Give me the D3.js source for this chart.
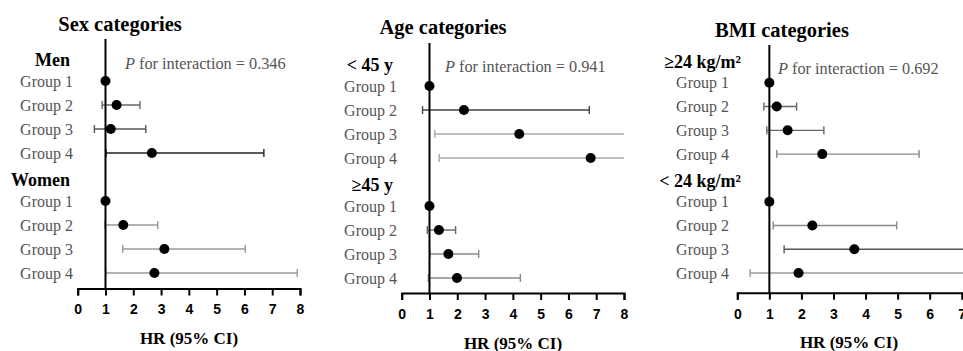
<!DOCTYPE html>
<html>
<head>
<meta charset="utf-8">
<script src="https://cdn.jsdelivr.net/npm/d3@7"></script>
<style>
  body { margin: 0; background: #fff; }
  svg { display: block; }
  .tick text { font-family: "Liberation Sans", Arial, sans-serif; font-weight: bold; font-size: 14px; fill: #000; }
  .serif { font-family: "Liberation Serif", serif; }
</style>
</head>
<body>
<div id="chart"></div>
<script>
// data
var panelTitles = ["Sex categories", "Age categories", "BMI categories"];
var subgroupNames = [["Men", "Women"], ["< 45 y", "\u226545 y"], ["\u226524 kg/m\u00b2", "< 24 kg/m\u00b2"]];
var groupLabels = ["Group 1", "Group 2", "Group 3", "Group 4"];
var pInteraction = ["0.346", "0.941", "0.692"];
var xTicks = [0, 1, 2, 3, 4, 5, 6, 7, 8];

// HR, lower and upper 95% CI, per subgroup
var hrSex    = [[1, 1.40, 1.19, 2.67], [1, 1.64, 3.12, 2.76]];
var lowerSex = [[1, 0.88, 0.60, 1.02], [1, 0.98, 1.62, 1.01]];
var upperSex = [[1, 2.24, 2.45, 6.70], [1, 2.88, 6.03, 7.90]];

var hrAge    = [[1, 2.24, 4.23, 6.80], [1, 1.34, 1.68, 1.99]];
var lowerAge = [[1, 0.75, 1.19, 1.35], [1, 0.92, 1.02, 0.96]];
var upperAge = [[1, 6.75, 9.80, 12.5], [1, 1.94, 2.77, 4.27]];

var hrBmi    = [[1, 1.23, 1.57, 2.65], [1, 2.34, 3.65, 1.91]];
var lowerBmi = [[1, 0.83, 0.92, 1.23], [1, 1.12, 1.46, 0.40]];
var upperBmi = [[1, 1.85, 2.70, 5.67], [1, 4.97, 9.10, 9.60]];

var hrAll = [hrSex, hrAge, hrBmi];
var lowerAll = [lowerSex, lowerAge, lowerBmi];
var upperAll = [upperSex, upperAge, upperBmi];

// styling / layout (not data)
var ciShades = [
  [["#000", "#666", "#555", "#222"], ["#000", "#999", "#999", "#999"]],
  [["#000", "#444", "#aaa", "#aaa"], ["#000", "#666", "#888", "#888"]],
  [["#000", "#666", "#666", "#888"], ["#000", "#888", "#555", "#999"]]
];

var layout = [
  { x0: 77.7, x1: 300, axisY: 288.5, rowTop: 57, rowBottom: 273, lineTop: 39,
    titleX: 120, titleY: 30.5, pX: 125, pY: 63, labelX: 73, headX: 70, hrX: 189 },
  { x0: 401.7, x1: 624, axisY: 293, rowTop: 62, rowBottom: 278, lineTop: 43,
    titleX: 443, titleY: 33.5, pX: 445, pY: 66, labelX: 397, headX: 393, hrX: 513 },
  { x0: 737.3, x1: 993.8, axisY: 292.7, rowTop: 59, rowBottom: 273, lineTop: 45,
    titleX: 782, titleY: 36.5, pX: 778, pY: 68, labelX: 729, headX: 741, hrX: 849 }
];

var svgWidth = 963;
var svgHeight = 351;

var svg = d3.select("#chart")
  .append("svg")
  .attr("width", svgWidth)
  .attr("height", svgHeight);

panelTitles.forEach(function(title, p) {
  var L = layout[p];
  var g = svg.append("g");

  var xScale = d3.scaleLinear()
    .domain([xTicks[0], xTicks[xTicks.length - 1]])
    .range([L.x0, L.x1]);

  var rowScale = d3.scalePoint()
    .domain(d3.range(10))
    .range([L.rowTop, L.rowBottom]);

  // title
  g.append("text")
    .attr("class", "serif")
    .attr("x", L.titleX)
    .attr("y", L.titleY)
    .attr("text-anchor", "middle")
    .attr("font-weight", "bold")
    .attr("font-size", 20.5)
    .text(title);

  // P for interaction
  var pt = g.append("text")
    .attr("class", "serif")
    .attr("x", L.pX)
    .attr("y", L.pY)
    .attr("dominant-baseline", "central")
    .attr("font-size", 16.3)
    .attr("fill", "#555");
  pt.append("tspan").attr("font-style", "italic").text("P");
  pt.append("tspan").text(" for interaction = " + pInteraction[p]);

  // rows
  var rows = [];
  subgroupNames[p].forEach(function(name, s) {
    rows.push({ kind: "head", text: name, idx: s * 5 });
    groupLabels.forEach(function(lab, k) {
      rows.push({
        kind: "group", text: lab, idx: s * 5 + k + 1,
        hr: hrAll[p][s][k], lo: lowerAll[p][s][k], hi: upperAll[p][s][k],
        shade: ciShades[p][s][k]
      });
    });
  });

  var heads = rows.filter(function(d) { return d.kind === "head"; });
  var groups = rows.filter(function(d) { return d.kind === "group"; });

  g.selectAll(".head")
    .data(heads)
    .enter()
    .append("text")
    .attr("class", "serif")
    .attr("x", L.headX)
    .attr("y", function(d) { return rowScale(d.idx) + 3; })
    .attr("text-anchor", "end")
    .attr("dominant-baseline", "central")
    .attr("font-weight", "bold")
    .attr("font-size", 18)
    .text(function(d) { return d.text; });

  g.selectAll(".glabel")
    .data(groups)
    .enter()
    .append("text")
    .attr("class", "serif")
    .attr("x", L.labelX)
    .attr("y", function(d) { return rowScale(d.idx); })
    .attr("text-anchor", "end")
    .attr("dominant-baseline", "central")
    .attr("font-size", 16)
    .attr("fill", "#555")
    .text(function(d) { return d.text; });

  // axis
  var axis = d3.axisBottom(xScale)
    .tickValues(xTicks)
    .tickFormat(d3.format("d"))
    .tickSize(7)
    .tickPadding(9);

  var ax = g.append("g")
    .attr("transform", "translate(0," + L.axisY + ")")
    .call(axis);
  ax.attr("font-family", null).attr("font-size", null);
  ax.select(".domain").attr("stroke", "#000").attr("stroke-width", 2);
  ax.selectAll(".tick line").attr("stroke", "#000").attr("stroke-width", 2);

  g.append("text")
    .attr("class", "serif")
    .attr("x", L.hrX)
    .attr("y", L.axisY + 50)
    .attr("text-anchor", "middle")
    .attr("dominant-baseline", "central")
    .attr("font-weight", "bold")
    .attr("font-size", 17)
    .text("HR (95% CI)");

  // CI lines
  var xMax = xScale.domain()[1];
  var ci = groups.filter(function(d) { return d.hi > d.lo; });

  g.selectAll(".ci")
    .data(ci)
    .enter()
    .append("line")
    .attr("x1", function(d) { return xScale(d.lo); })
    .attr("x2", function(d) { return xScale(Math.min(d.hi, xMax)); })
    .attr("y1", function(d) { return rowScale(d.idx); })
    .attr("y2", function(d) { return rowScale(d.idx); })
    .attr("stroke", function(d) { return d.shade; })
    .attr("stroke-width", 1.4);

  var caps = [];
  ci.forEach(function(d) {
    caps.push({ v: d.lo, idx: d.idx, shade: d.shade });
    if (d.hi <= xMax) caps.push({ v: d.hi, idx: d.idx, shade: d.shade });
  });

  g.selectAll(".cap")
    .data(caps)
    .enter()
    .append("line")
    .attr("x1", function(d) { return xScale(d.v); })
    .attr("x2", function(d) { return xScale(d.v); })
    .attr("y1", function(d) { return rowScale(d.idx) - 4; })
    .attr("y2", function(d) { return rowScale(d.idx) + 4; })
    .attr("stroke", function(d) { return d.shade; })
    .attr("stroke-width", 1.4);

  // reference line at HR = 1
  g.append("line")
    .attr("x1", xScale(1))
    .attr("x2", xScale(1))
    .attr("y1", L.lineTop)
    .attr("y2", L.axisY)
    .attr("stroke", "#000")
    .attr("stroke-width", 2);

  // points
  g.selectAll(".pt")
    .data(groups)
    .enter()
    .append("circle")
    .attr("cx", function(d) { return xScale(d.hr); })
    .attr("cy", function(d) { return rowScale(d.idx); })
    .attr("r", 5)
    .attr("fill", "#000");
});
</script>
</body>
</html>
